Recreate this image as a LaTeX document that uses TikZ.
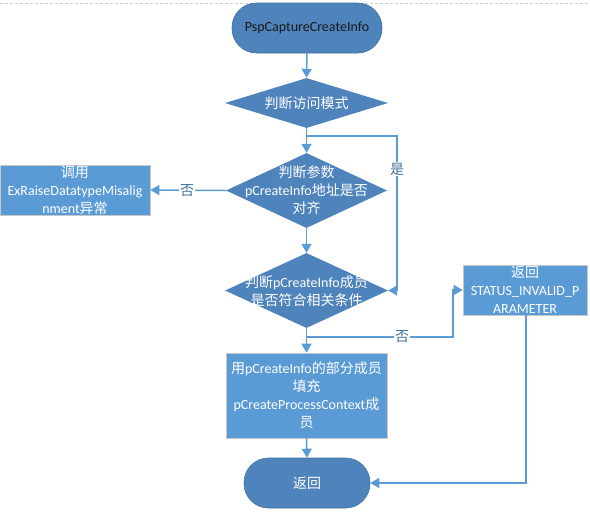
\documentclass[tikz,border=0pt]{standalone}
\usepackage{fontspec}
\setmainfont{Carlito}
\newfontfamily\cjkf{Noto Sans CJK SC}
\newcommand{\zhs}[1]{{\cjkf #1}}
\usetikzlibrary{shapes.geometric,arrows.meta,calc}
\definecolor{dk}{HTML}{4E84BB}
\definecolor{lt}{HTML}{5B9BD5}
\definecolor{ln}{HTML}{5B9BD5}
\definecolor{lb}{HTML}{41719C}
\definecolor{bd}{HTML}{41719C}
\begin{document}
\begin{tikzpicture}[x=1pt,y=-1pt,
  tf/.style={font={\fontsize{14}{18}\selectfont}},
  term/.style={rectangle, rounded corners=24.5pt, fill=dk, draw=bd, line width=0.6pt, minimum height=50pt, inner sep=0pt, text=white, tf},
  dia/.style={diamond, fill=dk, draw=none, inner sep=0pt},
  boxs/.style={rectangle, fill=lt, draw=black!22, line width=0.6pt, inner sep=0pt, text=white, align=center, tf},
  txt/.style={text=white, align=center, inner sep=0pt, tf},
  arr/.style={draw=ln, line width=1.5pt, -{Triangle[length=9pt,width=10pt]}},
  ln/.style={draw=ln, line width=1.5pt},
  lbl/.style={fill=white, text=lb, inner sep=1pt, tf}]
\useasboundingbox (0,0) rectangle (590,512);
\draw[black!18, line width=0.8pt, dash pattern=on 3pt off 2pt] (0,3) -- (590,3);

% nodes
\node[term, minimum width=150pt, text=black!90] (start) at (307,28) {PspCaptureCreateInfo};
\node[dia, minimum width=163pt, minimum height=50pt] (d1) at (306.5,103) {};
\node[txt] (d1t) at (d1.center) {\zhs{判断访问模式}};
\node[dia, minimum width=161pt, minimum height=75pt] (d2) at (306.5,190.5) {};
\node[txt] (d2t) at (d2.center) {\zhs{判断参数}\\pCreateInfo\zhs{地址是否}\\\zhs{对齐}};
\node[boxs, minimum width=150pt, minimum height=50pt] (lbox) at (75,190) {\zhs{调用}\\ExRaiseDatatypeMisalig\\nment\zhs{异常}};
\node[dia, minimum width=163pt, minimum height=75pt] (d3) at (306.5,290.5) {};
\node[txt] (d3t) at (306.5,291) {\zhs{判断}pCreateInfo\zhs{成员}\\\zhs{是否符合相关条件}};
\node[boxs, minimum width=124pt, minimum height=50pt] (stat) at (525,290) {\zhs{返回}\\STATUS\_INVALID\_P\\ARAMETER};
\node[boxs, minimum width=161pt, minimum height=85pt] (fill) at (306.5,395.5) {\zhs{用}pCreateInfo\zhs{的部分成员}\\\zhs{填充}\\pCreateProcessContext\zhs{成}\\\zhs{员}};
\node[term, minimum width=126pt] (end) at (307,483) {\zhs{返回}};

% helper coordinates
\coordinate (b1) at (306.5,136);
\coordinate (yx) at (397,200);
\coordinate (b3) at (306.5,337);
\coordinate (nx) at (453,300);
\coordinate (sx) at (526,400);

% connectors
\draw[arr] (start.south) -- (d1.north);
\draw[arr] (d1.south) -- (d2.north);
\draw[arr] (b1) -- (b1 -| yx) -- (yx |- d3.east) -- (d3.east);
\draw[arr] (d2.west) -- (lbox.east);
\draw[arr] (d2.south) -- (d3.north);
\draw[arr] (d3.south) -- (fill.north);
\draw[arr] (b3) -- (b3 -| nx) -- (nx |- stat.west) -- (stat.west);
\draw[arr] (fill.south) -- (end.north);
\draw[arr] (sx |- stat.south) -- (sx |- end.east) -- (end.east);

% labels
\node[lbl] (yes) at (397,169) {\zhs{是}};
\node[lbl] (no1) at (187,191) {\zhs{否}};
\node[lbl] (no2) at (402,337) {\zhs{否}};
\end{tikzpicture}
\end{document}
